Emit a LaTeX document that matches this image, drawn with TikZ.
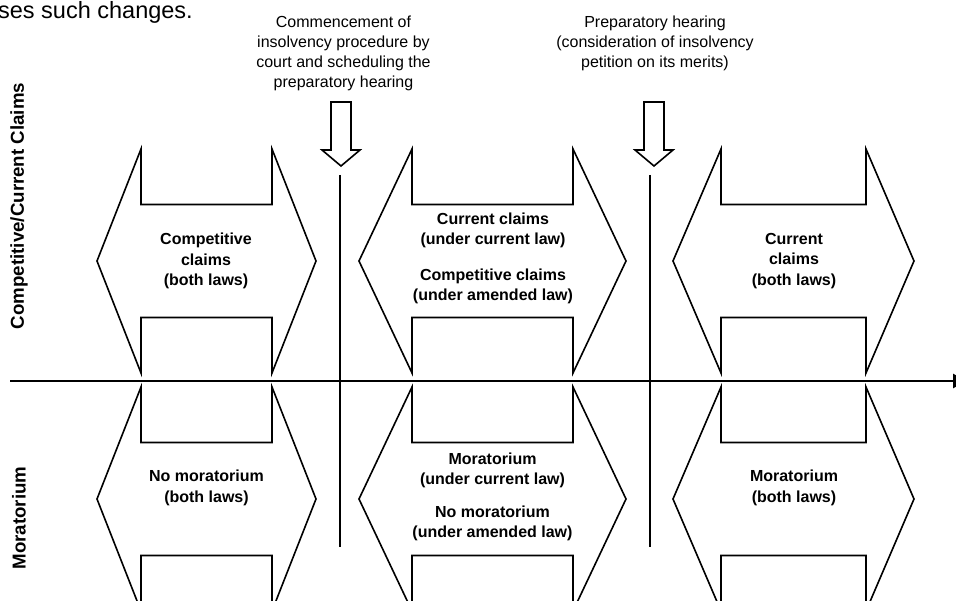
\documentclass[tikz,border=0pt]{standalone}
\usepackage{fontspec}
\setmainfont{Liberation Sans}
\usetikzlibrary{arrows.meta}
\newcommand\dblarr[5]{%
  \draw[shapeline] (#1,#5) -- (#2,#5-112) -- (#2,#5-56.5) -- (#3,#5-56.5) -- (#3,#5-112)
    -- (#4,#5) -- (#3,#5+112) -- (#3,#5+56.5) -- (#2,#5+56.5) -- (#2,#5+112) -- cycle;}
\newcommand\downarr[1]{%
  \draw[shapeline] (#1-10,102) -- (#1+10,102) -- (#1+10,150) -- (#1+19,150) -- (#1,166)
    -- (#1-19,150) -- (#1-10,150) -- cycle;}
\tikzset{
  shapeline/.style={line width=1.6pt, line join=miter},
  lbl/.style={font=\fontsize{16}{20}\selectfont, align=center, inner sep=0pt},
  boldlbl/.style={font=\bfseries\fontsize{16}{20.5}\selectfont, align=center, inner sep=0pt},
  sidelbl/.style={font=\bfseries\fontsize{18.7}{21}\selectfont, inner sep=0pt, rotate=90},
  vline/.style={line width=1.8pt},
  axisline/.style={line width=2.8pt, -{Triangle[length=13pt,width=14pt]}}
}
\begin{document}
\begin{tikzpicture}[x=1pt,y=-1pt]
\useasboundingbox (0,0) rectangle (956,601);
\clip (0,0) rectangle (956,601);
\fill[white] (0,0) rectangle (956,601);

% title fragment
\node[font=\fontsize{23.5}{27}\selectfont, anchor=base east, inner sep=0pt] (title) at (193,19) {ses such changes.};

% side labels
\node[sidelbl] (sidetop) at (19,206) {Competitive/Current Claims};
\node[sidelbl] (sidebot) at (19,518) {Moratorium};

% event labels
\node[lbl] (ev1) at (343.5,53) {Commencement of\\insolvency procedure by\\court and scheduling the\\preparatory hearing};
\node[lbl] (ev2) at (655,43) {Preparatory hearing\\(consideration of insolvency\\petition on its merits)};

% down arrows
\downarr{341}
\downarr{654}

% vertical lines
\coordinate (v1t) at (340,175); \coordinate (v1b) at (340,547);
\coordinate (v2t) at (650,175); \coordinate (v2b) at (650,547);
\draw[vline] (v1t) -- (v1b);
\draw[vline] (v2t) -- (v2b);

% axis
\coordinate (axs) at (10,381); \coordinate (axe) at (966,381);
\draw[axisline] (axs) -- (axe);

% double arrows top row
\dblarr{97}{141}{272}{316}{261}
\dblarr{359}{412}{573}{626}{261}
\dblarr{673}{721}{866}{914}{261}
% double arrows bottom row
\dblarr{97}{141}{272}{316}{499}
\dblarr{359}{412}{573}{626}{499}
\dblarr{673}{721}{866}{914}{499}

% texts in arrows
\node[boldlbl] (t1) at (206,261) {Competitive\\claims\\(both laws)};
\node[boldlbl] (t2) at (493,258.5) {Current claims\\(under current law)\\[15pt]Competitive claims\\(under amended law)};
\node[boldlbl] (t3) at (794,261) {Current\\claims\\(both laws)};
\node[boldlbl] (b1) at (206.5,488) {No moratorium\\(both laws)};
\node[boldlbl] (b2) at (492.5,497) {Moratorium\\(under current law)\\[12pt]No moratorium\\(under amended law)};
\node[boldlbl] (b3) at (794,488) {Moratorium\\(both laws)};
\end{tikzpicture}
\end{document}
